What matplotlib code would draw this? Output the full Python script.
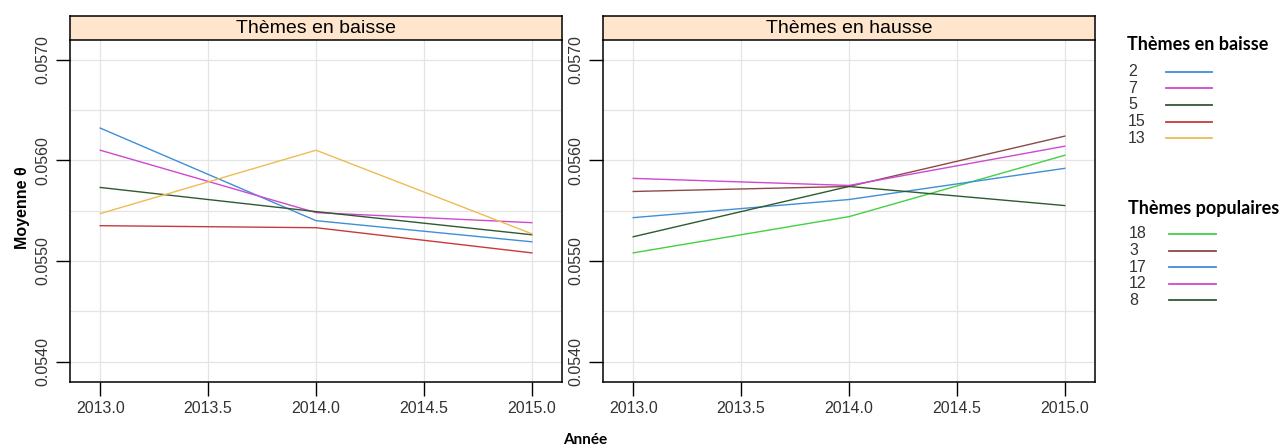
import numpy as np
import matplotlib.pyplot as plt
from matplotlib.lines import Line2D

plt.rcParams['font.family'] = ['Liberation Sans', 'DejaVu Sans']

# data
years = [2013, 2014, 2015]

baisse_ids = ['2', '7', '5', '15', '13']
baisse_2 = [0.05632, 0.05540, 0.05519]
baisse_7 = [0.05610, 0.05548, 0.05538]
baisse_5 = [0.05573, 0.05549, 0.05526]
baisse_15 = [0.05535, 0.05533, 0.05508]
baisse_13 = [0.05547, 0.05610, 0.05527]
baisse_colors = ['#3f8fd8', '#d048d0', '#2f5a2f', '#c83a3a', '#eebb55']

hausse_ids = ['18', '3', '17', '12', '8']
hausse_18 = [0.05508, 0.05544, 0.05605]
hausse_3 = [0.05569, 0.05574, 0.05624]
hausse_17 = [0.05543, 0.05561, 0.05592]
hausse_12 = [0.05582, 0.05575, 0.05614]
hausse_8 = [0.05524, 0.05574, 0.05555]
hausse_colors = ['#44d044', '#8a4a4a', '#3f8fd8', '#d048d0', '#2f5a2f']

baisse = [baisse_2, baisse_7, baisse_5, baisse_15, baisse_13]
hausse = [hausse_18, hausse_3, hausse_17, hausse_12, hausse_8]

W, H = 1281, 447
fig = plt.figure(figsize=(W / 100, H / 100), dpi=100)

def px_axes(x0, y0, x1, y1):
    return fig.add_axes([x0 / W, 1 - y1 / H, (x1 - x0) / W, (y1 - y0) / H])

panels = [("Thèmes en baisse", baisse, baisse_colors, 70),
          ("Thèmes en hausse", hausse, hausse_colors, 603)]

for title, series, colors, x0 in panels:
    ax = px_axes(x0, 39.5, x0 + 492, 381.7)
    for vals, c in zip(series, colors):
        ax.plot(years, vals, color=c, lw=1.0)
    ax.set_xlim(2012.86, 2015.14)
    ax.set_ylim(0.05380, 0.05720)
    ax.set_xticks([2013.0, 2013.5, 2014.0, 2014.5, 2015.0])
    ax.set_xticklabels(['2013.0', '2013.5', '2014.0', '2014.5', '2015.0'])
    ax.set_yticks([0.054, 0.055, 0.056, 0.057])
    ax.set_yticklabels(['0.0540', '0.0550', '0.0560', '0.0570'], rotation=90, va='center')
    ax.set_yticks(np.arange(0.0540, 0.05701, 0.0005), minor=True)
    ax.tick_params(axis='y', which='minor', length=0)
    ax.grid(True, which='both', color='#e4e4e4', lw=0.9)
    ax.set_axisbelow(True)
    ax.tick_params(length=10, width=1, labelsize=11.5, labelcolor='#333333', pad=4)
    for s in ax.spines.values():
        s.set_linewidth(1.1)
    ax.spines['top'].set_visible(False)

    sax = px_axes(x0, 16, x0 + 492, 39.5)
    sax.set_facecolor('#ffe5cc')
    sax.set_xticks([])
    sax.set_yticks([])
    for s in sax.spines.values():
        s.set_linewidth(1.1)
    sax.text(0.5, 0.45, title, ha='center', va='center', fontsize=14, transform=sax.transAxes)

fig.text(23 / W, 1 - 208 / H, "Moyenne θ", rotation=90, ha='center', va='center',
         fontsize=11.5, fontweight='bold')
fig.text(585 / W, 1 - 440 / H, "Année", ha='center', va='center',
         fontsize=11, fontweight='bold', family=['Lato', 'DejaVu Sans'])

# legends: title, then label on the left and key line on the right
def add_legend(ids, colors, title, x, y_title, y_first, lx0, lx1):
    fig.text(x / W, 1 - y_title / H, title, ha='left', va='center',
             fontsize=13, fontweight='bold', family=['Lato', 'DejaVu Sans'])
    for i, (lab, c) in enumerate(zip(ids, colors)):
        y = y_first + i * 16.6
        fig.text((x + 1) / W, 1 - y / H, lab, ha='left', va='center',
                 fontsize=11.5, color='#333333')
        fig.add_artist(Line2D([lx0 / W, lx1 / W], [1 - y / H, 1 - y / H],
                              color=c, lw=1.3))

add_legend(baisse_ids, baisse_colors, "Thèmes en baisse", 1127, 45, 71.7, 1166, 1212)
add_legend(hausse_ids, hausse_colors, "Thèmes populaires", 1128, 209, 234, 1169, 1216)

fig.savefig("out.png", dpi=100)
